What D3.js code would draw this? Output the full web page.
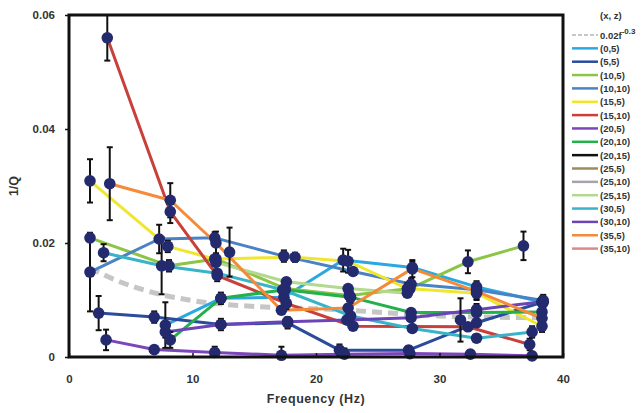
<!DOCTYPE html>
<html>
<head>
<meta charset="utf-8">
<script src="https://cdn.jsdelivr.net/npm/d3@7/dist/d3.min.js"></script>
<style>
  html, body { margin: 0; padding: 0; background: #fff; }
  svg text { font-family: "Liberation Sans", Arial, sans-serif; font-weight: bold; fill: #333; }
</style>
</head>
<body>
<svg id="chart" width="643" height="413"></svg>
<script>
// Attenuation 1/Q versus frequency at each (x, z) station.
// Each point: [frequency Hz, 1/Q, error half-width]
const fitCurve = [[1.7,0.0156],[4,0.0133],[7,0.0112],[10,0.0099],[14,0.0090],[18,0.0086],
                  [22,0.0083],[26,0.0077],[30,0.0072],[34,0.0070],[38.5,0.0069]];
const s0_5   = [[7.8,0.0056,0.004],[12.3,0.0103,0],[17.4,0.0105,0.001],[22.2,0.0170,0.002],[27.8,0.0157,0.001],[33,0.0123,0.001],[38.4,0.0096,0.001]];
const s5_5   = [[2.4,0.0077,0.003],[6.9,0.0070,0.001],[12.3,0.0057,0.001],[17.7,0.0060,0.001],[21.9,0.0012,0.001],[27.5,0.0012,0.0007],[33,0.0060,0.0005],[38.3,0.0096,0.001]];
const s10_5  = [[1.7,0.0209,0],[8.1,0.0160,0.001],[11.9,0.0172,0.001],[17.5,0.0120,0],[22.7,0.0108,0.001],[27.6,0.0120,0],[32.3,0.0167,0.002],[36.8,0.0195,0.0025]];
const s10_10 = [[1.7,0.0149,0.0069],[7.3,0.0207,0.0025],[11.8,0.0209,0.001],[17.4,0.0177,0.001],[23,0.0150,0],[27.7,0.0128,0.001],[33,0.0118,0.001],[38.4,0.0099,0.001]];
const s15_5  = [[1.7,0.0309,0.0038],[8,0.0194,0.001],[11.8,0.0172,0],[18.3,0.0175,0.0008],[22.6,0.0168,0.002],[27.4,0.0120,0.001],[33,0.0112,0.001],[38.3,0.0054,0.001]];
const s15_10 = [[3.1,0.0560,0.004],[8.2,0.0255,0.002],[12,0.0143,0.001],[17.6,0.0094,0.001],[23,0.0054,0],[32.3,0.0053,0],[37.3,0.0022,0.001]];
const s20_5  = [[3,0.0030,0.0018],[6.9,0.0013,0],[11.8,0.0008,0.001],[17.2,0.0003,0.0015],[22.3,0.0005,0.001],[27.6,0.0006,0.0007],[32.5,0.0005,0.0005],[37.5,0.0002,0]];
const s20_10 = [[8.2,0.0030,0.0014],[12.3,0.0103,0.001],[17.5,0.0118,0],[22.8,0.0105,0.001],[27.7,0.0078,0],[33,0.0078,0],[38.3,0.0079,0]];
const s20_15 = [];
const s25_5  = [[13,0.0184,0.0043]];
const s25_10 = [[31.7,0.0065,0.0038]];
const s25_15 = [[11.9,0.0166,0],[17.6,0.0132,0],[22.6,0.0120,0],[27.4,0.0112,0]];
const s30_5  = [[2.8,0.0183,0.0015],[7.5,0.0160,0.005],[12,0.0147,0],[17.3,0.0118,0],[22.8,0.0072,0],[27.8,0.0050,0],[33,0.0033,0],[37.5,0.0044,0.001]];
const s30_10 = [[7.8,0.0044,0.001],[12.3,0.0057,0],[17.7,0.0062,0],[22.5,0.0065,0],[27.7,0.0069,0],[33,0.0083,0.001],[38.3,0.0097,0]];
const s35_5  = [[3.3,0.0304,0.0064],[8.2,0.0275,0.003],[11.9,0.0200,0.002],[17.2,0.0082,0],[22.6,0.0086,0],[27.8,0.0155,0.0015],[33,0.0115,0.0015],[38.3,0.0068,0.001]];
const s35_10 = [];

const seriesNames  = ["(0,5)","(5,5)","(10,5)","(10,10)","(15,5)","(15,10)","(20,5)","(20,10)","(20,15)","(25,5)","(25,10)","(25,15)","(30,5)","(30,10)","(35,5)","(35,10)"];
const seriesData   = [s0_5, s5_5, s10_5, s10_10, s15_5, s15_10, s20_5, s20_10, s20_15, s25_5, s25_10, s25_15, s30_5, s30_10, s35_5, s35_10];
const seriesColors = ["#2aa9e1","#2b4b9b","#8cc444","#4a82c6","#f0e62e","#c9403a","#7b46b9","#24b04b","#111111","#9c8c5a","#a7a2ad","#b3d88f","#38b3c8","#6b44b8","#f48a3a","#d98a8a"];

const xTicks = [0, 10, 20, 30, 40];
const yTicks = [0, 0.02, 0.04, 0.06];

const svg = d3.select("#chart");
const margin = { left: 69, top: 15, right: 563, bottom: 357 };

const x = d3.scaleLinear().domain([0, 40]).range([margin.left, margin.right]);
const y = d3.scaleLinear().domain([0, 0.06]).range([margin.bottom, margin.top]);

const plot = svg.append("g");
const line = d3.line().x(d => x(d[0])).y(d => y(d[1]));

// power-law reference curve
plot.append("path").datum(fitCurve)
  .attr("d", line.curve(d3.curveMonotoneX))
  .attr("fill", "none").attr("stroke", "#c6c6c6").attr("stroke-width", 5)
  .attr("stroke-dasharray", "10,6");
line.curve(d3.curveLinear);

// station lines
seriesData.forEach((data, i) => {
  if (data.length < 2) return;
  plot.append("path").datum(data)
    .attr("d", line)
    .attr("fill", "none").attr("stroke", seriesColors[i])
    .attr("stroke-width", 3).attr("stroke-linejoin", "round");
});

// error bars
const allPoints = seriesData.flat();
const eb = plot.append("g").attr("stroke", "#111").attr("stroke-width", 2);
allPoints.filter(d => d[2] > 0).forEach(d => {
  const cx = x(d[0]);
  const y0 = y(Math.max(0, d[1] - d[2])), y1 = y(d[1] + d[2]);
  eb.append("line").attr("x1", cx).attr("x2", cx).attr("y1", y0).attr("y2", y1);
  eb.append("line").attr("x1", cx - 3).attr("x2", cx + 3).attr("y1", y0).attr("y2", y0);
  eb.append("line").attr("x1", cx - 3).attr("x2", cx + 3).attr("y1", y1).attr("y2", y1);
});

// markers
plot.append("g").selectAll("circle").data(allPoints).join("circle")
  .attr("cx", d => x(d[0])).attr("cy", d => y(d[1])).attr("r", 5.8)
  .attr("fill", "#232a6e");

// frame and axes
svg.append("rect").attr("x", margin.left).attr("y", margin.top)
  .attr("width", margin.right - margin.left).attr("height", margin.bottom - margin.top)
  .attr("fill", "none").attr("stroke", "#111").attr("stroke-width", 3);

const xAxis = svg.append("g").attr("transform", `translate(0,${margin.bottom})`)
  .call(d3.axisBottom(x).tickValues(xTicks).tickSize(-4).tickPadding(18).tickFormat(d3.format("d")));
const yAxis = svg.append("g").attr("transform", `translate(${margin.left},0)`)
  .call(d3.axisLeft(y).tickValues(yTicks).tickSize(4).tickPadding(10)
    .tickFormat(d => d === 0 ? "0" : d3.format(".2f")(d)));
[xAxis, yAxis].forEach(a => {
  a.select(".domain").remove();
  a.selectAll(".tick line").attr("stroke", "#111").attr("stroke-width", 1.5);
  a.selectAll("text").attr("font-size", 11.5);
});

svg.append("text").attr("x", 316).attr("y", 403).attr("text-anchor", "middle")
  .attr("font-size", 12.5).attr("letter-spacing", 0.6).text("Frequency (Hz)");
svg.append("text").attr("transform", "translate(18,186) rotate(-90)")
  .attr("text-anchor", "middle").attr("font-size", 12.5).text("1/Q");

// legend
const lg = svg.append("g");
const lgX = 572, lgY0 = 35, lgStep = 13.35;
lg.append("text").attr("x", 600).attr("y", 19).attr("font-size", 9.5).text("(x, z)");
lg.append("line").attr("x1", lgX).attr("x2", lgX + 26).attr("y1", lgY0).attr("y2", lgY0)
  .attr("stroke", "#b5b5b5").attr("stroke-width", 1.5).attr("stroke-dasharray", "4,2");
const fitLabel = lg.append("text").attr("x", 600).attr("y", lgY0 + 3.5).attr("font-size", 9.5);
fitLabel.append("tspan").text("0.02f");
fitLabel.append("tspan").attr("dy", -5).attr("font-size", 8).text("-0.3");
seriesNames.forEach((name, i) => {
  const yy = lgY0 + (i + 1) * lgStep;
  lg.append("line").attr("x1", lgX).attr("x2", lgX + 26).attr("y1", yy).attr("y2", yy)
    .attr("stroke", seriesColors[i]).attr("stroke-width", 2.5);
  lg.append("text").attr("x", 600).attr("y", yy + 3.5).attr("font-size", 9.5).text(name);
});
</script>
</body>
</html>
